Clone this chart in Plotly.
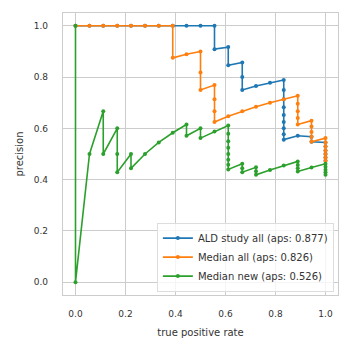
import plotly.graph_objects as go

ald_x = [0, 0.056, 0.111, 0.167, 0.222, 0.278, 0.333, 0.389, 0.444, 0.5, 0.556,
         0.556, 0.611, 0.611, 0.667, 0.667, 0.667, 0.722, 0.778, 0.833,
         0.833, 0.833, 0.833, 0.833, 0.833, 0.833, 0.833, 0.833,
         0.889, 0.944, 0.944, 1.0, 1.0, 1.0, 1.0, 1.0, 1.0]
ald_y = [1, 1, 1, 1, 1, 1, 1, 1, 1, 1, 1,
         0.909, 0.917, 0.846, 0.857, 0.8, 0.75, 0.765, 0.778, 0.789,
         0.75, 0.714, 0.682, 0.652, 0.625, 0.6, 0.577, 0.556,
         0.571, 0.567, 0.548, 0.545, 0.529, 0.514, 0.5, 0.486, 0.474]

med_all_x = [0, 0.056, 0.111, 0.167, 0.222, 0.278, 0.333, 0.389, 0.389, 0.444, 0.5, 0.5, 0.5,
             0.556, 0.556, 0.556, 0.556, 0.611, 0.667, 0.722, 0.778, 0.833,
             0.889, 0.889, 0.889, 0.889, 0.889, 0.944, 0.944, 0.944, 0.944, 0.944,
             1.0, 1.0, 1.0, 1.0, 1.0, 1.0, 1.0]
med_all_y = [1, 1, 1, 1, 1, 1, 1, 1, 0.875, 0.889, 0.9, 0.818, 0.75,
             0.769, 0.714, 0.667, 0.625, 0.647, 0.667, 0.684, 0.7, 0.714,
             0.727, 0.696, 0.667, 0.64, 0.615, 0.63, 0.607, 0.586, 0.567, 0.548,
             0.562, 0.545, 0.529, 0.514, 0.5, 0.486, 0.474]

med_new_x = [0, 0, 0.056, 0.111, 0.111, 0.167, 0.167, 0.167, 0.222, 0.222, 0.278, 0.333,
             0.389, 0.444, 0.444, 0.5, 0.5, 0.556, 0.611, 0.611, 0.611, 0.611, 0.611,
             0.611, 0.611, 0.611, 0.667, 0.667, 0.667, 0.722, 0.722, 0.722, 0.778,
             0.833, 0.889, 0.889, 0.889, 0.889, 0.944, 1.0, 1.0, 1.0, 1.0, 1.0]
med_new_y = [1, 0, 0.5, 0.667, 0.5, 0.6, 0.5, 0.429, 0.5, 0.444, 0.5, 0.545,
             0.583, 0.615, 0.571, 0.6, 0.562, 0.588, 0.611, 0.579, 0.55, 0.524, 0.5,
             0.478, 0.458, 0.44, 0.462, 0.444, 0.429, 0.448, 0.433, 0.419, 0.438,
             0.455, 0.471, 0.457, 0.444, 0.432, 0.447, 0.462, 0.45, 0.439, 0.429, 0.419]

series = [
    ("ALD study all (aps: 0.877)", ald_x, ald_y, "#1f77b4"),
    ("Median all (aps: 0.826)", med_all_x, med_all_y, "#ff7f0e"),
    ("Median new (aps: 0.526)", med_new_x, med_new_y, "#2ca02c"),
]

tick_vals = [0.0, 0.2, 0.4, 0.6, 0.8, 1.0]
tick_text = ["0.0", "0.2", "0.4", "0.6", "0.8", "1.0"]

fig = go.Figure()
for name, xs, ys, col in series:
    fig.add_trace(go.Scatter(
        x=xs, y=ys, name=name, mode="lines+markers",
        line=dict(color=col, width=1.6),
        marker=dict(color=col, size=4),
    ))

font = "DejaVu Sans"
txt = "#333333"
grid = "#cccccc"
axis_common = dict(
    tickvals=tick_vals, ticktext=tick_text, showgrid=True, gridcolor=grid, gridwidth=1.3,
    zeroline=False, showline=True, linecolor=grid, linewidth=1.3, mirror=True,
    ticks="outside", tickcolor="rgba(0,0,0,0)",
    tickfont=dict(family=font, size=9, color=txt),
)

fig.update_layout(
    width=352, height=352,
    margin=dict(l=63, r=14, t=13, b=57),
    paper_bgcolor="white", plot_bgcolor="white",
    font=dict(family=font, size=10, color=txt),
    xaxis=dict(range=[-0.05, 1.05], ticklen=10,
               title=dict(text="true positive rate", standoff=11,
                          font=dict(family=font, size=10, color=txt)), **axis_common),
    yaxis=dict(range=[-0.05, 1.05], ticklen=12,
               title=dict(text="precision", standoff=8,
                          font=dict(family=font, size=10, color=txt)), **axis_common),
    legend=dict(x=0.985, y=0.012, xanchor="right", yanchor="bottom",
                bgcolor="rgba(255,255,255,0.8)", bordercolor="#dddddd", borderwidth=1,
                font=dict(family=font, size=10, color=txt),
                itemwidth=30, tracegroupgap=0),
    showlegend=True,
)

fig.write_html("out.html")
